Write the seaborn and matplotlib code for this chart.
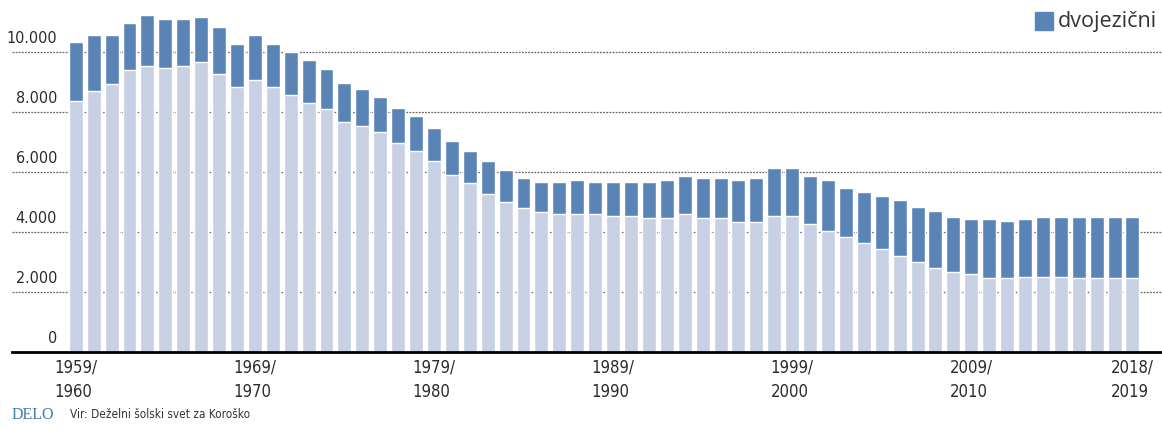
import matplotlib
matplotlib.use("Agg")
import matplotlib.pyplot as plt
import seaborn as sns
import pandas as pd

# school years 1959/60 ... 2018/19
years = [f"{y}/\n{y + 1}" for y in range(1959, 2019)]

# total pupils (top of bar) and the lighter lower part
total = [10330, 10550, 10550, 10950, 11220, 11090, 11090, 11170, 10810, 10260,
         10550, 10260, 10000, 9710, 9430, 8970, 8770, 8480, 8130, 7860,
         7450, 7030, 6700, 6350, 6070, 5800, 5670, 5670, 5720, 5670,
         5670, 5670, 5670, 5720, 5870, 5800, 5800, 5720, 5800, 6130,
         6130, 5870, 5720, 5460, 5320, 5180, 5060, 4830, 4700, 4500,
         4420, 4420, 4370, 4420, 4500, 4500, 4500, 4500, 4500, 4500]
lower = [8360, 8700, 8910, 9390, 9520, 9450, 9520, 9660, 9260, 8830,
         9050, 8830, 8560, 8280, 8080, 7670, 7520, 7310, 6970, 6700,
         6360, 5890, 5610, 5270, 5000, 4780, 4650, 4590, 4590, 4590,
         4520, 4520, 4450, 4450, 4590, 4450, 4450, 4310, 4320, 4520,
         4520, 4250, 4020, 3810, 3610, 3420, 3200, 3000, 2780, 2650,
         2580, 2450, 2450, 2500, 2500, 2500, 2450, 2450, 2450, 2450]

yticks = [0, 2000, 4000, 6000, 8000, 10000]
ytick_labels = ["0", "2.000", "4.000", "6.000", "8.000", "10.000"]
tick_idx = [0, 10, 20, 30, 40, 50, 59]

dark = "#5b84b6"
light = "#c7d1e3"
cond = dict(family="DejaVu Sans", stretch="condensed")

df = pd.DataFrame({"leto": years, "skupaj": total, "enojezicni": lower})

sns.set_style("white")
fig = plt.figure(figsize=(11.62, 4.30), dpi=100)
ax = fig.add_axes([12 / 1162, 78.3 / 430, 1150 / 1162, 345 / 430])

sns.barplot(data=df, x="leto", y="skupaj", color=dark, width=0.78,
            saturation=1, ax=ax, zorder=2)
sns.barplot(data=df, x="leto", y="enojezicni", color=light, width=0.78,
            saturation=1, ax=ax, zorder=3)

ax.set_xlim(-3.56, 60.65)
ax.set_ylim(0, 11500)
ax.set_xlabel("")
ax.set_ylabel("")

# dotted gridlines behind the bars
for v in yticks[1:]:
    ax.axhline(v, color="#666666", lw=0.9, ls=(0, (1.5, 1)), zorder=1)

for s in ["top", "right", "left"]:
    ax.spines[s].set_visible(False)
ax.spines["bottom"].set_color("black")
ax.spines["bottom"].set_linewidth(2)
ax.spines["bottom"].set_zorder(5)

ax.set_yticks([])
for v, lab in zip(yticks, ytick_labels):
    ax.annotate(lab, (-1.05, v), xytext=(0, 4), textcoords="offset points",
                ha="right", va="bottom", fontsize=11.5, color="#2b2b2b", **cond)

ax.set_xticks(tick_idx)
ax.set_xticklabels([years[i] for i in tick_idx], fontsize=12, color="#2b2b2b",
                   ha="center", multialignment="left", linespacing=1.45, **cond)
ax.tick_params(axis="x", length=0, pad=5)

# legend
fig.patches.append(plt.Rectangle((1035 / 1162, 1 - 30 / 430), 18 / 1162, 18 / 430,
                                 transform=fig.transFigure, color=dark))
fig.text(1058 / 1162, 1 - 21 / 430, "dvojezični", fontsize=15.5, color="#333333",
         va="center", ha="left", family=["Open Sans", "DejaVu Sans"])

# source
fig.text(12 / 1162, 1 - 415 / 430, "DELO", fontsize=11.5, color="#3f7fa3",
         va="center", ha="left", family=["Liberation Serif", "DejaVu Serif"])
fig.text(70 / 1162, 1 - 414 / 430, "Vir: Deželni šolski svet za Koroško",
         fontsize=8.5, color="#333333", va="center", ha="left", **cond)

fig.savefig("out.png", dpi=100)
